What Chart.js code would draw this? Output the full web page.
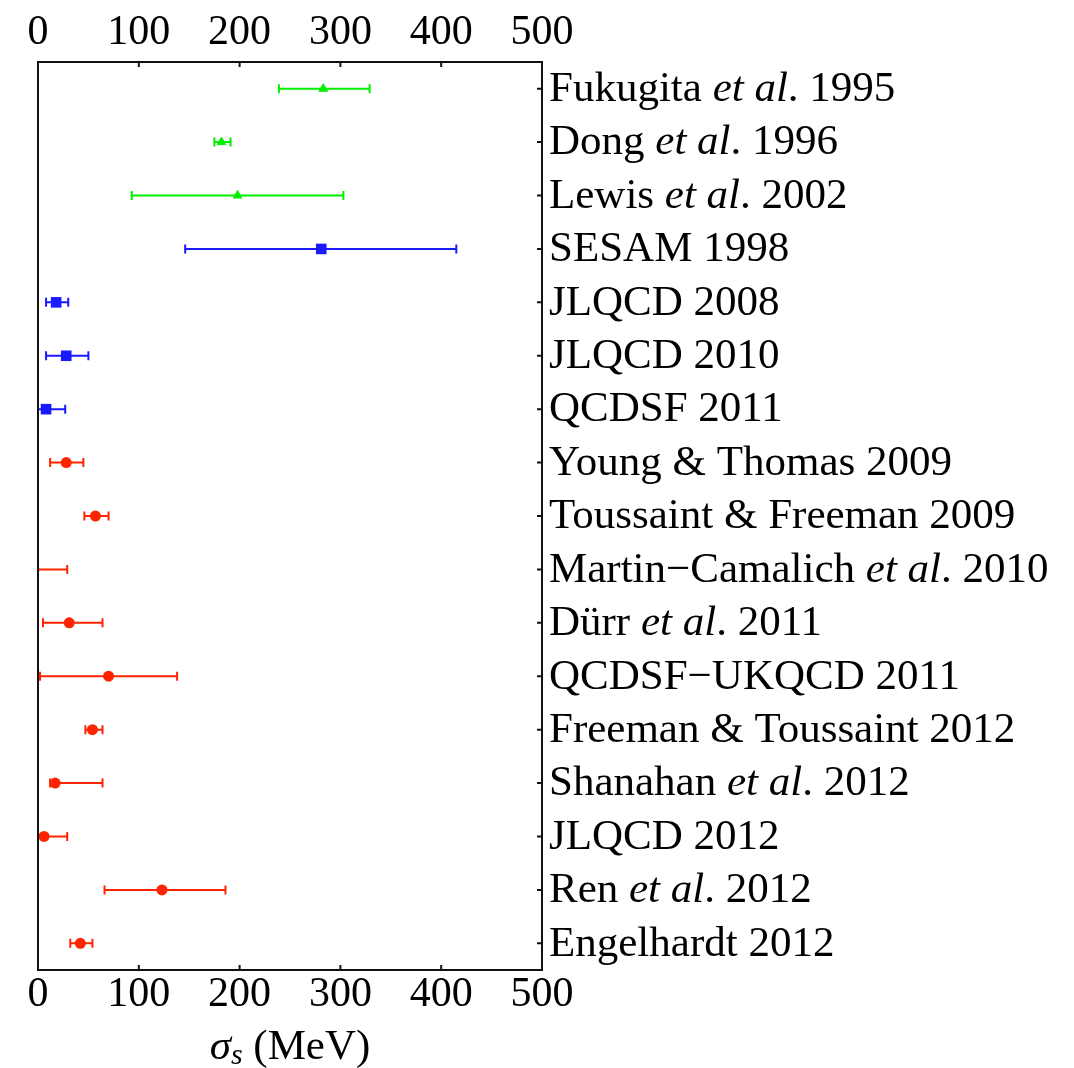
<!DOCTYPE html>
<html>
<head>
<meta charset="utf-8">
<script src="https://cdn.jsdelivr.net/npm/chart.js@4.4.1/dist/chart.umd.min.js"></script>
<style>
  body { margin: 0; background: #fff; }
</style>
</head>
<body>
<canvas id="chart" width="1074" height="1068"></canvas>
<script>
// sigma_s determinations, top to bottom
const labels = [
  'Fukugita et al. 1995', 'Dong et al. 1996', 'Lewis et al. 2002', 'SESAM 1998',
  'JLQCD 2008', 'JLQCD 2010', 'QCDSF 2011', 'Young & Thomas 2009',
  'Toussaint & Freeman 2009', 'Martin\u2212Camalich et al. 2010', 'D\u00fcrr et al. 2011',
  'QCDSF\u2212UKQCD 2011', 'Freeman & Toussaint 2012', 'Shanahan et al. 2012',
  'JLQCD 2012', 'Ren et al. 2012', 'Engelhardt 2012'
];
const sigma   = [283, 182, 198, 281, 18, 28, 8, 28, 57, -4, 31, 70, 54, 17, 6, 123, 42];
const errLow  = [44, 7, 105, 135, 10, 20, 18, 16, 11, 23, 26, 68, 7, 5, 6, 57, 10];
const errHigh = [46, 9, 105, 134, 12, 22, 19, 17, 13, 33, 33, 68, 10, 47, 23, 63, 12];
// g = quenched, b = two-flavour, r = 2+1 flavour
const group = ['g', 'g', 'g', 'b', 'b', 'b', 'b', 'r', 'r', 'r', 'r', 'r', 'r', 'r', 'r', 'r', 'r'];
const xTicks = [0, 100, 200, 300, 400, 500];

const FONT = "'Liberation Serif', 'Times New Roman', serif";
const FS = 43;

function points(g) {
  const out = [];
  sigma.forEach((v, i) => {
    if (group[i] === g) out.push({ x: v, y: i, lo: errLow[i], hi: errHigh[i] });
  });
  return out;
}

const errorBars = {
  id: 'errorBars',
  beforeDatasetsDraw(chart) {
    const { ctx, chartArea: a, scales: { x, y } } = chart;
    ctx.save();
    ctx.beginPath();
    ctx.rect(a.left, a.top, a.right - a.left, a.bottom - a.top);
    ctx.clip();
    chart.data.datasets.forEach(ds => {
      ctx.strokeStyle = ds.borderColor;
      ctx.lineWidth = 2;
      ds.data.forEach(p => {
        const py = y.getPixelForValue(p.y);
        const x0 = x.getPixelForValue(p.x - p.lo);
        const x1 = x.getPixelForValue(p.x + p.hi);
        ctx.beginPath();
        ctx.moveTo(x0, py); ctx.lineTo(x1, py);
        ctx.moveTo(x0, py - 4.5); ctx.lineTo(x0, py + 4.5);
        ctx.moveTo(x1, py - 4.5); ctx.lineTo(x1, py + 4.5);
        ctx.stroke();
      });
    });
    ctx.restore();
  },
  afterDraw(chart) {
    const { ctx, chartArea: a, scales: { x, y } } = chart;
    ctx.save();
    // frame and inward ticks
    ctx.strokeStyle = '#111';
    ctx.lineWidth = 2;
    ctx.strokeRect(a.left, a.top, a.right - a.left, a.bottom - a.top);
    ctx.beginPath();
    xTicks.slice(1, -1).forEach(t => {
      const px = x.getPixelForValue(t);
      ctx.moveTo(px, a.top); ctx.lineTo(px, a.top + 5);
      ctx.moveTo(px, a.bottom); ctx.lineTo(px, a.bottom - 5);
    });
    labels.forEach((_, i) => {
      const py = y.getPixelForValue(i);
      ctx.moveTo(a.right, py); ctx.lineTo(a.right - 5, py);
    });
    ctx.stroke();

    // row labels, "et al" set in italics
    ctx.fillStyle = '#000';
    ctx.textBaseline = 'middle';
    labels.forEach((lab, i) => {
      const py = y.getPixelForValue(i) + 1;
      let px = a.right + 7;
      const k = lab.indexOf('et al');
      const parts = k < 0 ? [[lab, false]]
        : [[lab.slice(0, k), false], ['et al', true], [lab.slice(k + 5), false]];
      parts.forEach(([s, it]) => {
        ctx.font = (it ? 'italic ' : '') + FS + 'px ' + FONT;
        ctx.fillText(s, px, py);
        px += ctx.measureText(s).width;
      });
    });

    // axis title
    ctx.textBaseline = 'alphabetic';
    const base = 1059;
    const t1 = 'italic ' + FS + 'px ' + FONT;
    const t2 = 'italic ' + Math.round(FS * 0.7) + 'px ' + FONT;
    const t3 = FS + 'px ' + FONT;
    ctx.font = t1; const w1 = ctx.measureText('\u03c3').width;
    ctx.font = t2; const w2 = ctx.measureText('s').width;
    ctx.font = t3; const w3 = ctx.measureText(' (MeV)').width;
    let tx = (a.left + a.right) / 2 - (w1 + w2 + w3) / 2;
    ctx.font = t1; ctx.fillText('\u03c3', tx, base); tx += w1;
    ctx.font = t2; ctx.fillText('s', tx, base + 5); tx += w2;
    ctx.font = t3; ctx.fillText(' (MeV)', tx, base);
    ctx.restore();
  }
};

const tickFont = { family: FONT, size: 42 };

new Chart(document.getElementById('chart'), {
  type: 'scatter',
  data: {
    datasets: [
      { data: points('g'), borderColor: '#00f000', backgroundColor: '#00f000',
        pointStyle: 'triangle', pointRadius: 5, pointBorderWidth: 1, clip: 0 },
      { data: points('b'), borderColor: '#1a1aff', backgroundColor: '#1a1aff',
        pointStyle: 'rect', pointRadius: 7.5, pointBorderWidth: 0, clip: 0 },
      { data: points('r'), borderColor: '#ff2400', backgroundColor: '#ff2400',
        pointStyle: 'circle', pointRadius: 5.5, pointBorderWidth: 0, clip: 0 }
    ]
  },
  options: {
    responsive: false,
    animation: false,
    devicePixelRatio: 1,
    layout: { padding: { left: 38, right: 532, top: 0, bottom: 0 } },
    plugins: { legend: { display: false }, tooltip: { enabled: false } },
    scales: {
      x: {
        type: 'linear', position: 'bottom', min: 0, max: 500,
        grid: { display: false, drawTicks: false }, border: { display: false },
        ticks: { stepSize: 100, font: tickFont, color: '#000', padding: 0, maxRotation: 0 },
        afterFit(s) { s.height = 98; }
      },
      x2: {
        type: 'linear', position: 'top', min: 0, max: 500,
        grid: { display: false, drawTicks: false }, border: { display: false },
        ticks: { stepSize: 100, font: tickFont, color: '#000', padding: 4, maxRotation: 0 },
        afterFit(s) { s.height = 62; }
      },
      y: {
        type: 'linear', min: -0.5, max: 16.5, reverse: true, display: false
      }
    }
  },
  plugins: [errorBars]
});
</script>
</body>
</html>
